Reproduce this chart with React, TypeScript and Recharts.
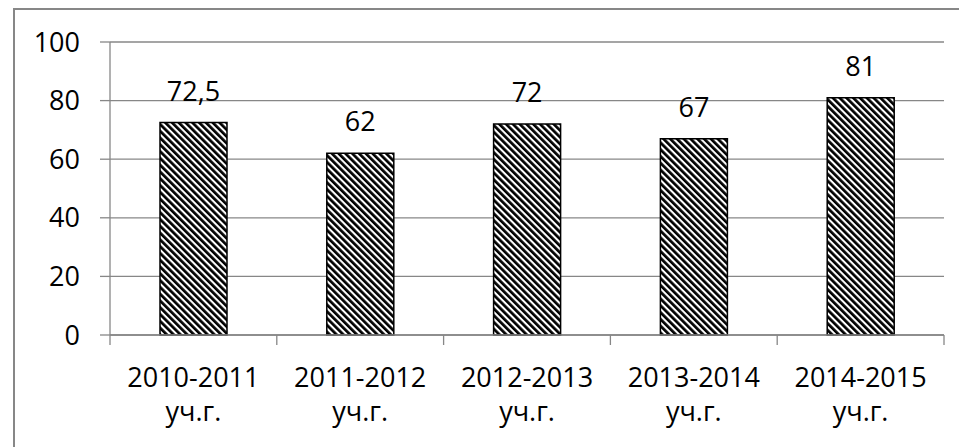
import React from 'react';
import { BarChart, Bar, XAxis, YAxis, CartesianGrid, LabelList } from 'recharts';

const yearRanges = ['2010-2011', '2011-2012', '2012-2013', '2013-2014', '2014-2015'];
const yearSuffix = 'уч.г.';
const values = [72.5, 62, 72, 67, 81];
const yTicks = [0, 20, 40, 60, 80, 100];

const data = yearRanges.map((r, i) => ({ name: r, value: values[i] }));

const FONT = '"Open Sans", sans-serif';
const GRAY = '#878787';
const CHART_W = 959;
const Y_AXIS_W = 110;
const MARGIN_R = 15;
const HALF_BAND_FALLBACK = (CHART_W - Y_AXIS_W - MARGIN_R) / yearRanges.length / 2;

const CatTick = (props: any) => {
  const { x, y, payload, index } = props;
  const half = payload && typeof payload.offset === 'number' && payload.offset > 0 ? payload.offset : HALF_BAND_FALLBACK;
  const isLast = index === yearRanges.length - 1;
  return (
    <g>
      <line x1={x - half} y1={y} x2={x - half} y2={y + 10} stroke={GRAY} strokeWidth={1.3} />
      {isLast && <line x1={x + half} y1={y} x2={x + half} y2={y + 10} stroke={GRAY} strokeWidth={1.3} />}
      <text x={x} y={y} textAnchor="middle" fill="#000" fontFamily={FONT} fontSize={27}>
        <tspan x={x} dy={52}>{payload.value}</tspan>
        <tspan x={x} dy={34}>{yearSuffix}</tspan>
      </text>
    </g>
  );
};

export default function App() {
  return (
    <div style={{ position: 'fixed', left: 0, top: 0, width: 959, height: 447, overflow: 'hidden', background: '#fff' }}>
      <div
        style={{
          position: 'absolute',
          left: 13,
          top: 8,
          width: 1000,
          height: 500,
          border: `2px solid ${GRAY}`,
          boxSizing: 'border-box',
        }}
      />
      <div style={{ position: 'absolute', left: 0, top: 0 }}>
        <BarChart
          width={CHART_W}
          height={447}
          data={data}
          margin={{ top: 42, right: MARGIN_R, left: 0, bottom: 0 }}
        >
          <defs>
            <pattern id="hatch" patternUnits="userSpaceOnUse" width={4.8} height={4.8} patternTransform="rotate(-45)">
              <rect x={0} y={0} width={4.8} height={4.8} fill="#fff" />
              <rect x={0} y={0} width={2.7} height={4.8} fill="#000" />
            </pattern>
          </defs>
          <CartesianGrid vertical={false} stroke={GRAY} strokeWidth={1.3} />
          <XAxis
            dataKey="name"
            type="category"
            height={112}
            axisLine={{ stroke: GRAY, strokeWidth: 1.3 }}
            tickLine={false}
            tickSize={0}
            tickMargin={0}
            tick={<CatTick />}
            interval={0}
          />
          <YAxis
            domain={[0, 100]}
            ticks={yTicks}
            width={Y_AXIS_W}
            axisLine={{ stroke: GRAY, strokeWidth: 1.3 }}
            tickLine={{ stroke: GRAY, strokeWidth: 1.3 }}
            tickSize={10}
            tickMargin={20}
            tick={{ fill: '#000', fontFamily: FONT, fontSize: 27 }}
          />
          <Bar
            dataKey="value"
            barSize={67}
            fill="url(#hatch)"
            stroke="#000"
            strokeWidth={1.5}
            isAnimationActive={false}
          >
            <LabelList
              dataKey="value"
              position="top"
              offset={22}
              fill="#000"
              fontFamily={FONT}
              fontSize={27}
              formatter={(v: any) => String(v).replace('.', ',')}
            />
          </Bar>
        </BarChart>
      </div>
    </div>
  );
}
